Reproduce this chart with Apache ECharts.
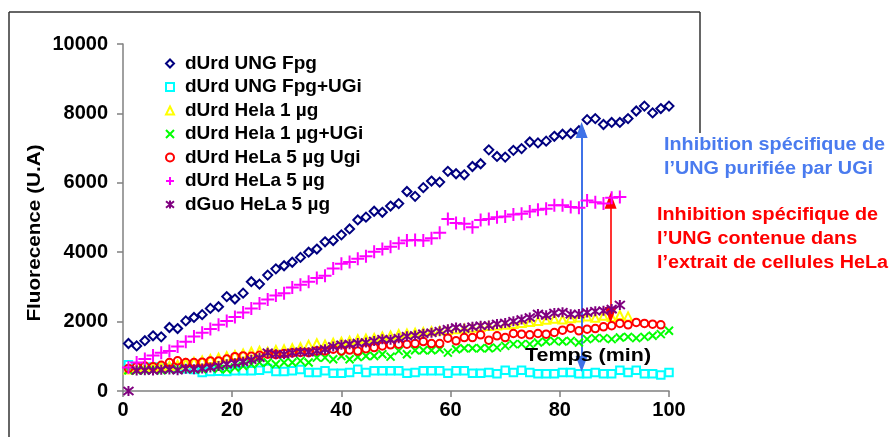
<!DOCTYPE html>
<html><head><meta charset="utf-8">
<script src="https://cdn.jsdelivr.net/npm/echarts@6/dist/echarts.min.js"></script>
<style>html,body{margin:0;padding:0;background:#fff}#c{width:893px;height:437px}</style>
</head><body><div id="c"></div>
<script>
// ---------- data ----------
const times = [1,2.5,4,5.5,7,8.5,10,11.5,13,14.5,16,17.5,19,20.5,22,23.5,25,26.5,28,29.5,31,32.5,34,35.5,37,38.5,40,41.5,43,44.5,46,47.5,49,50.5,52,53.5,55,56.5,58,59.5,61,62.5,64,65.5,67,68.5,70,71.5,73,74.5,76,77.5,79,80.5,82,83.5,85,86.5,88,89.5,91,92.5,94,95.5,97,98.5,100];

const seriesNames = ['dUrd UNG Fpg','dUrd UNG Fpg+UGi','dUrd Hela 1 µg','dUrd Hela 1 µg+UGi','dUrd HeLa 5 µg Ugi','dUrd HeLa 5 µg','dGuo HeLa 5 µg'];

const ungFpg = [1370,1300,1450,1590,1560,1830,1800,2020,2120,2200,2380,2430,2720,2650,2820,3150,3080,3340,3520,3610,3710,3850,4000,4090,4300,4335,4500,4670,4930,5010,5180,5150,5330,5400,5750,5610,5860,6050,6020,6330,6260,6230,6470,6550,6950,6760,6740,6935,6985,7175,7150,7200,7340,7400,7420,7500,7820,7850,7680,7740,7740,7850,8070,8210,8015,8140,8210];

const ungFpgUgi = [760,700,680,690,660,670,650,640,620,530,560,570,560,580,580,580,600,645,560,560,580,620,530,530,580,510,510,530,625,530,580,580,580,580,510,530,580,580,580,510,580,580,510,510,530,500,597,530,597,530,500,500,500,530,530,500,500,530,500,500,597,530,597,500,500,462,530];

const hela1 = [620,650,660,680,700,720,760,800,840,880,920,960,1000,1040,1080,1130,1160,1130,1180,1200,1230,1260,1330,1375,1340,1390,1420,1450,1490,1510,1530,1570,1600,1640,1660,1680,1700,1720,1740,1760,1780,1800,1820,1850,1870,1890,1910,1930,1960,1990,2020,2050,2080,2060,2100,2120,2150,2110,2170,2130,2190,2150];

const hela1Ugi = [600,600,600,610,600,620,620,640,630,625,675,640,625,675,720,770,820,820,770,820,820,867,820,963,963,915,1010,915,980,1010,1010,1060,990,1156,1060,1175,1175,1175,1205,1107,1205,1233,1233,1233,1233,1250,1300,1350,1350,1350,1400,1425,1445,1425,1445,1400,1494,1523,1523,1494,1541,1560,1523,1560,1590,1640,1734];

const hela5Ugi = [650,700,720,700,740,820,870,820,820,830,867,867,920,990,1010,1000,1030,1060,1050,1080,1100,1110,1107,1156,1156,1204,1156,1180,1150,1220,1252,1300,1330,1350,1350,1368,1425,1368,1368,1523,1445,1541,1541,1618,1465,1590,1541,1657,1638,1618,1657,1638,1686,1753,1810,1734,1782,1800,1850,1880,1946,1908,1975,1946,1927,1908];

const hela5 = [680,820,920,1020,1100,1150,1280,1420,1570,1680,1790,1910,2020,2130,2265,2380,2520,2640,2750,2820,2980,3060,3150,3260,3320,3530,3670,3720,3810,3880,4010,4090,4160,4260,4335,4350,4335,4400,4560,4960,4840,4820,4720,4930,4960,5010,5030,5090,5110,5170,5220,5250,5350,5350,5300,5280,5490,5440,5400,5570,5590];

const dGuoHela5 = [0,590,600,590,610,620,600,640,630,650,680,720,770,800,840,900,960,1100,1060,1060,1100,1130,1120,1160,1200,1280,1330,1350,1380,1400,1440,1490,1480,1520,1580,1600,1650,1680,1720,1780,1830,1800,1850,1880,1890,1930,1960,2010,2060,2120,2220,2180,2250,2270,2210,2220,2260,2300,2310,2360,2480];

// annotation arrows (data coordinates)
const blueArrow = {x: 84, from: 7520, to: 780};
const redArrow = {x: 89.3, from: 5480, to: 2190};

const xTicks = {min: 0, max: 100, interval: 20};
const yTicks = {min: 0, max: 10000, interval: 2000};

// ---------- styles ----------
const FF = '"Liberation Sans", Arial, Helvetica, sans-serif';
const colors = ['#000080','#00ffff','#ffff00','#00ff00','#ff0000','#ff00ff','#800080'];
const symbols = [
  'path://M5,0L10,5L5,10L0,5Z',
  'path://M0,0L10,0L10,10L0,10Z',
  'path://M5,0L10,10L0,10Z',
  'path://M0,0L10,10M10,0L0,10',
  'circle',
  'path://M5,0L5,10M0,5L10,5',
  'path://M5,0L5,10M0,1L10,9M10,1L0,9'
];
const sizes = [9, 7.5, 8, 8, 7.5, 13, 10];
const allVals = [ungFpg, ungFpgUgi, hela1, hela1Ugi, hela5Ugi, hela5, dGuoHela5];

const series = allVals.map((vals, k) => ({
  name: seriesNames[k],
  type: 'scatter',
  symbol: symbols[k],
  symbolSize: sizes[k],
  data: vals.map((v, i) => [times[i], v]),
  itemStyle: {color: 'rgba(0,0,0,0)', borderColor: colors[k], borderWidth: 2, opacity: 1},
  emphasis: {disabled: true},
  z: 2 + k
}));

series.push({
  type: 'scatter', data: [], silent: true, z: 20,
  markLine: {
    silent: true, symbol: ['triangle','triangle'], symbolSize: [12, 16],
    label: {show: false}, animation: false,
    data: [
      [{coord: [blueArrow.x, blueArrow.from], lineStyle: {color: '#3f72e8', width: 2, type: 'solid'}, itemStyle:{color:'#3f72e8'}},
       {coord: [blueArrow.x, blueArrow.to]}],
      [{coord: [redArrow.x, redArrow.from], lineStyle: {color: '#ff0000', width: 1.6, type: 'solid'}, itemStyle:{color:'#ff0000'}},
       {coord: [redArrow.x, redArrow.to]}]
    ]
  }
});

const axisCommon = {
  axisLine: {show: true, lineStyle: {color: '#808080', width: 1.5}},
  axisTick: {show: true, length: 6, lineStyle: {color: '#808080', width: 1.5}},
  splitLine: {show: false},
  axisLabel: {fontSize: 20, fontWeight: 'bold', color: '#000', fontFamily: FF, formatter: v => String(v)}
};

const chart = echarts.init(document.getElementById('c'), null, {renderer: 'canvas'});
chart.setOption({
  animation: false,
  backgroundColor: '#fff',
  grid: {left: 123, right: 224, top: 44, bottom: 46, containLabel: false},
  xAxis: Object.assign({type: 'value'}, xTicks, axisCommon, {axisLabel: Object.assign({}, axisCommon.axisLabel, {margin: 9})}),
  yAxis: Object.assign({type: 'value'}, yTicks, axisCommon, {axisLabel: Object.assign({}, axisCommon.axisLabel, {margin: 15})}),
  legend: {
    orient: 'vertical', left: 160, top: 49, itemGap: 4.5, itemWidth: 10, itemHeight: 8,
    data: seriesNames,
    textStyle: {fontSize: 19, fontWeight: 'bold', color: '#000', fontFamily: FF, lineHeight: 18, padding: [0, 0, 0, 5]},
    selectedMode: false
  },
  series: series,
  graphic: [
    {type: 'line', shape: {x1: 9, y1: 12, x2: 700, y2: 12}, style: {stroke: '#333', lineWidth: 1.5}},
    {type: 'line', shape: {x1: 9, y1: 12, x2: 9, y2: 437}, style: {stroke: '#333', lineWidth: 1.5}},
    {type: 'line', shape: {x1: 700, y1: 12, x2: 700, y2: 133}, style: {stroke: '#333', lineWidth: 1.5}},
    {type: 'text', x: 35, y: 233, rotation: Math.PI / 2, scaleX: 1.15,
     style: {text: 'Fluorecence (U.A)', font: 'bold 18px ' + FF, fill: '#000', align: 'center', verticalAlign: 'middle'}},
    {type: 'text', x: 525, y: 356, scaleX: 1.13,
     style: {text: 'Temps (min)', font: 'bold 19px ' + FF, fill: '#000', align: 'left', verticalAlign: 'middle'}, z: 30},
    {type: 'text', x: 664, y: 157, scaleX: 1.1,
     style: {text: 'Inhibition spécifique de\nl’UNG purifiée par UGi', font: 'bold 18px ' + FF, fill: '#4a7bef', align: 'left', verticalAlign: 'middle', lineHeight: 24}},
    {type: 'text', x: 657, y: 239, scaleX: 1.1,
     style: {text: 'Inhibition spécifique de\nl’UNG contenue dans\nl’extrait de cellules HeLa', font: 'bold 18px ' + FF, fill: '#ff0000', align: 'left', verticalAlign: 'middle', lineHeight: 24}}
  ]
});
</script></body></html>
